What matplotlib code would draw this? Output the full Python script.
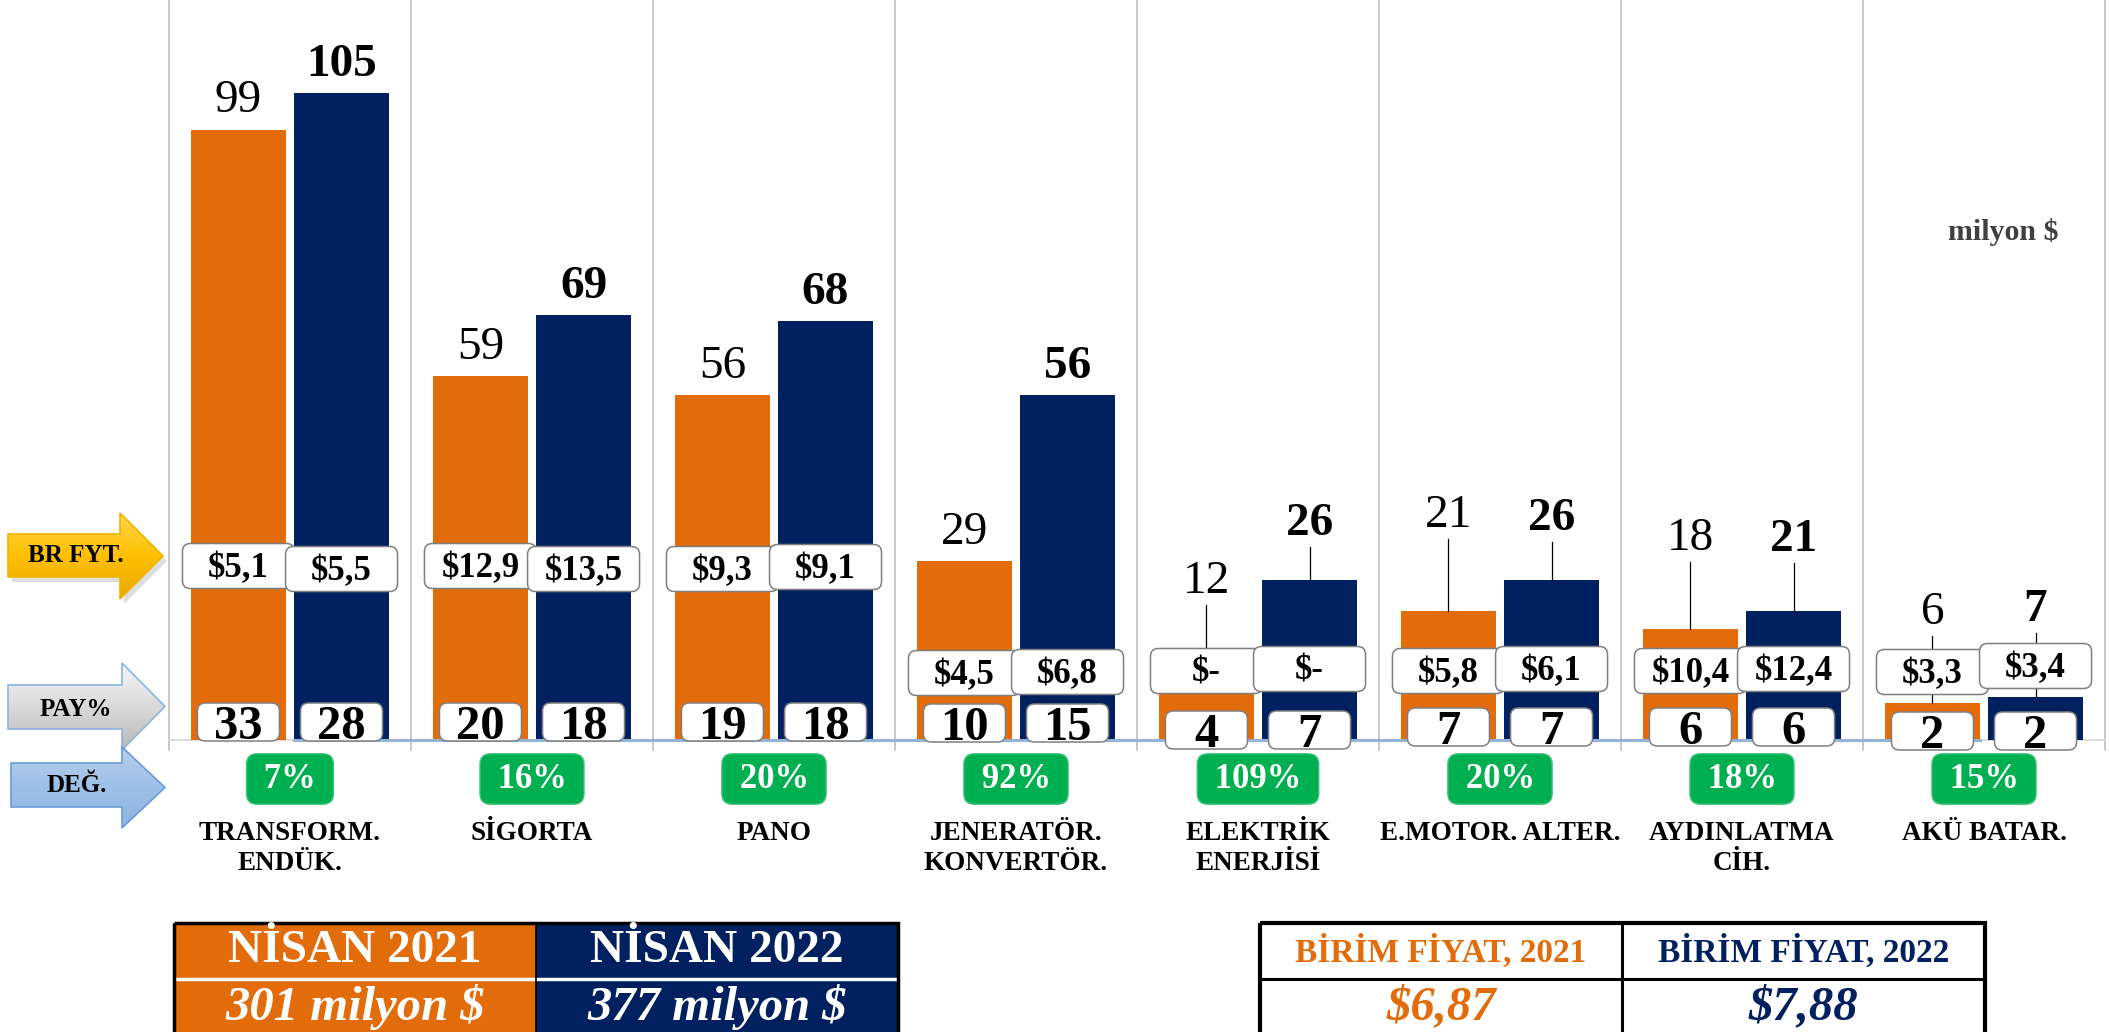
import matplotlib
matplotlib.use("Agg")
import matplotlib.pyplot as plt
import numpy as np
from matplotlib.patches import Polygon, FancyBboxPatch, Rectangle
from matplotlib.colors import LinearSegmentedColormap

# data (milyon $)
categories = ["TRANSFORM.\nENDÜK.", "SİGORTA", "PANO", "JENERATÖR.\nKONVERTÖR.",
              "ELEKTRİK\nENERJİSİ", "E.MOTOR. ALTER.", "AYDINLATMA\nCİH.", "AKÜ BATAR."]
values_2021 = [99, 59, 56, 29, 12, 21, 18, 6]
values_2022 = [105, 69, 68, 56, 26, 26, 21, 7]
price_2021 = ["$5,1", "$12,9", "$9,3", "$4,5", "$-", "$5,8", "$10,4", "$3,3"]
price_2022 = ["$5,5", "$13,5", "$9,1", "$6,8", "$-", "$6,1", "$12,4", "$3,4"]
share_2021 = [33, 20, 19, 10, 4, 7, 6, 2]
share_2022 = [28, 18, 18, 15, 7, 7, 6, 2]
change = ["7%", "16%", "20%", "92%", "109%", "20%", "18%", "15%"]
total_labels = ["NİSAN 2021", "NİSAN 2022"]
totals = ["301 milyon $", "377 milyon $"]
unit_labels = ["BİRİM FİYAT, 2021", "BİRİM FİYAT, 2022"]
unit_prices = ["$6,87", "$7,88"]

ORANGE = "#E36C0A"
NAVY = "#002060"
GREEN = "#00B050"
FONT = "Liberation Serif"
plt.rcParams["font.family"] = [FONT, "DejaVu Serif"]

W, H = 2109, 1032
BASE = 740  # pixel row of the baseline

# label layout (pixel rows), labels lifted over the price boxes
br_y_2021 = [566, 566, 569, 673, 671, 671, 671, 672]
br_y_2022 = [569, 569, 567, 672, 669, 669, 669, 666]
pay_y = [722, 722, 722, 723, 730, 727, 727, 731]
lifted_2021 = {4: 593, 5: 527, 6: 550, 7: 624}
lifted_2022 = {4: 535, 5: 530, 6: 551, 7: 621}

fig = plt.figure(figsize=(W / 100, H / 100), dpi=100)
ax = fig.add_axes([169 / W, (H - BASE) / H, (2105 - 169) / W, BASE / H])
ax.set_xlim(-0.5, 7.5)
ax.set_ylim(0, 120)
ax.axis("off")

x = np.arange(len(categories))
off, bw = 0.213, 0.393
ax.bar(x - off, values_2021, bw, color=ORANGE, zorder=2)
ax.bar(x + off, values_2022, bw, color=NAVY, zorder=2)

# vertical separators between categories
for b in np.arange(-0.5, 8):
    ax.plot([b, b], [-1.7, 120], color="#C4C4C4", lw=1.3, clip_on=False, zorder=1)
ax.plot([-0.5, 7.5], [0, 0], color="#D9D9D9", lw=1.3, clip_on=False, zorder=1)
ax.plot([off - bw / 2, 7 - off + bw / 2], [0, 0], color="#95B3D7", lw=2.2, clip_on=False, zorder=3)

# overlay in pixel coordinates
ov = fig.add_axes([0, 0, 1, 1], zorder=3)
ov.patch.set_alpha(0)


def px(xv, yv):
    dx, dy = ax.transData.transform((xv, yv))
    return dx, H - dy


def rbox(cx, cy, w, h, fc="white", ec="#7F7F7F", r=8, z=4):
    ov.add_patch(FancyBboxPatch((cx - w / 2, cy - h / 2), w, h,
                                boxstyle=f"round,pad=0,rounding_size={r}",
                                fc=fc, ec=ec, lw=1.1, zorder=z))


for vals, prices, shares, br_y, lifted, sign, weight in [
        (values_2021, price_2021, share_2021, br_y_2021, lifted_2021, -1, "normal"),
        (values_2022, price_2022, share_2022, br_y_2022, lifted_2022, 1, "bold")]:
    for i, v in enumerate(vals):
        cx, top = px(i + sign * off, v)
        if i in lifted:
            base = lifted[i]
            ov.plot([cx, cx], [base + 12, top], color="black", lw=0.9, zorder=3)
        else:
            base = top - 17
        ov.text(cx, base, str(v), ha="center", va="baseline", fontsize=34,
                fontweight=weight, zorder=6)
        # unit price box
        rbox(cx, br_y[i], 112, 45)
        ov.text(cx, br_y[i] + 11, prices[i], ha="center", va="baseline",
                fontsize=25, fontweight="bold", zorder=6)
        # share box
        rbox(cx, pay_y[i], 82, 38)
        ov.text(cx, pay_y[i] + 17, str(shares[i]), ha="center", va="baseline",
                fontsize=35, fontweight="bold", zorder=6)

for i, cat in enumerate(categories):
    cx, _ = px(i, 0)
    ov.text(cx, 779, f" {change[i]} ", ha="center", va="center", fontsize=25,
            fontweight="bold", color="white", zorder=6,
            bbox=dict(boxstyle="round,pad=0.25,rounding_size=0.3", fc=GREEN, ec="#3CC27A", lw=1))
    ov.text(cx, 821, cat, ha="center", va="top", fontsize=19.5, fontweight="bold",
            linespacing=1.25, zorder=6)

ov.text(2003, 232, "milyon $", ha="center", va="center", fontsize=21.5,
        fontweight="bold", color="#404040")


# left arrows
def arrow(pts, colors, edge, label, tx, ty, shadow=False):
    xs, ys = zip(*pts)
    if shadow:
        ov.add_patch(Polygon([(a + 4, b + 5) for a, b in pts], closed=True,
                             fc="#C8C8C8", ec="none", alpha=0.6, zorder=1))
    poly = Polygon(pts, closed=True, fc="none", ec=edge, lw=1.2, zorder=3)
    ov.add_patch(poly)
    cmap = LinearSegmentedColormap.from_list("g", colors)
    im = ov.imshow(np.linspace(0, 1, 100)[:, None], cmap=cmap, aspect="auto",
                   extent=(min(xs), max(xs), max(ys), min(ys)), origin="upper", zorder=2)
    im.set_clip_path(poly)
    ov.text(tx, ty, label, ha="center", va="center", fontsize=18,
            fontweight="bold", zorder=6)


def arrow_pts(x0, x1, xt, b0, b1, h0, h1):
    return [(x0, b0), (x1, b0), (x1, h0), (xt, (h0 + h1) / 2), (x1, h1), (x1, b1), (x0, b1)]


arrow(arrow_pts(8, 120, 163, 534, 577, 513, 599), ["#FFD54F", "#FFC000", "#E8A800"],
      "#F0B400", "BR FYT.", 76, 556, shadow=True)
arrow(arrow_pts(8, 122, 165, 685, 729, 663, 750), ["#F7F7F7", "#DADADA", "#B8B8B8"],
      "#8DB3E2", "PAY%", 76, 709)
arrow(arrow_pts(11, 122, 165, 763, 807, 747, 828), ["#B7CFEC", "#9DC0E6", "#8DB3E2"],
      "#6A9BD8", "DEĞ.", 77, 786)

# bottom tables
T0, T1, T2 = 923, 979, 1045
for j, (x0, x1) in enumerate([(174, 536), (536, 898)]):
    fc = ORANGE if j == 0 else NAVY
    ov.add_patch(Rectangle((x0, T0), x1 - x0, T2 - T0, fc=fc, ec="none", zorder=2))
    cx = (x0 + x1) / 2
    ov.text(cx, 951, total_labels[j], ha="center", va="center", fontsize=34,
            fontweight="bold", color="white", zorder=6)
    ov.text(cx, 1007, totals[j], ha="center", va="center", fontsize=35,
            fontweight="bold", style="italic", color="white", zorder=6)
ov.plot([174, 898], [T1, T1], color="white", lw=2.5, zorder=3)
ov.plot([536, 536], [T0, T2], color="black", lw=1.2, zorder=3)
ov.add_patch(Rectangle((174, T0), 724, T2 - T0, fc="none", ec="black", lw=2.5, zorder=4))

for j, (x0, x1) in enumerate([(1260, 1622), (1622, 1985)]):
    col = ORANGE if j == 0 else NAVY
    cx = (x0 + x1) / 2
    ov.text(cx, 952, unit_labels[j], ha="center", va="center", fontsize=24,
            fontweight="bold", color=col, zorder=6)
    ov.text(cx, 1007, unit_prices[j], ha="center", va="center", fontsize=35,
            fontweight="bold", style="italic", color=col, zorder=6)
ov.plot([1260, 1985], [T1, T1], color="black", lw=2.2, zorder=3)
ov.plot([1622, 1622], [T0, T2], color="black", lw=2.2, zorder=3)
ov.add_patch(Rectangle((1260, T0), 725, T2 - T0, fc="none", ec="black", lw=3, zorder=4))

ov.set_xlim(0, W)
ov.set_ylim(H, 0)
ov.axis("off")

fig.savefig("out.png", dpi=100, facecolor="white")
